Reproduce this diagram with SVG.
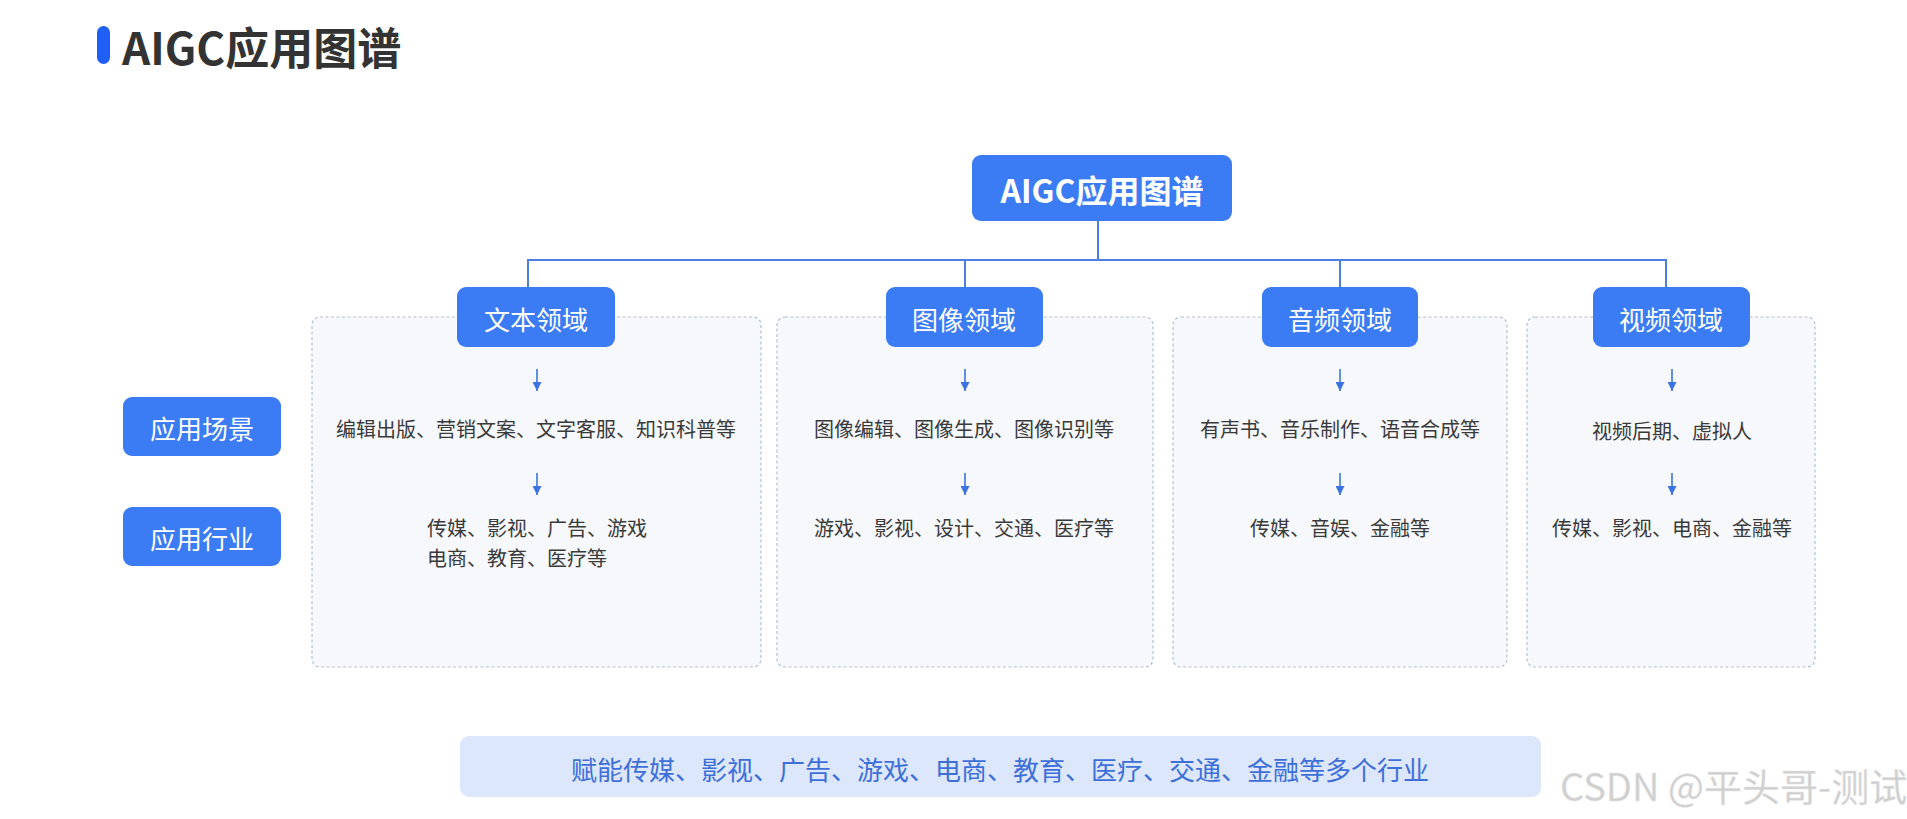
<svg xmlns="http://www.w3.org/2000/svg" width="1907" height="819" viewBox="0 0 1907 819">
<defs>
<style>
text{font-family:"Noto Sans CJK SC","Noto Sans",sans-serif;}
.btn{fill:#3b7cf4;}
.btxt{fill:#ffffff;font-size:26px;text-anchor:middle;dominant-baseline:central;}
.box{fill:#f6f8fb;stroke:#b4c0d2;stroke-width:1.2;stroke-dasharray:3 2.5;}
.body{fill:#3a3a3a;font-size:20px;text-anchor:middle;dominant-baseline:central;}
.bodyl{fill:#3a3a3a;font-size:20px;dominant-baseline:central;}
.conn{stroke:#4d7fe0;stroke-width:2;fill:none;}
.arr{stroke:#3b73e0;stroke-width:1.6;fill:none;}
</style>
<marker id="ah" viewBox="0 0 10 10" refX="10" refY="5" markerWidth="10" markerHeight="9" markerUnits="userSpaceOnUse" orient="auto">
<path d="M0,0 L10,5 L0,10 Z" fill="#3b73e0"/>
</marker>
</defs>
<rect width="1907" height="819" fill="#ffffff"/>

<g id="title">
<rect x="97" y="26" width="13" height="38" rx="6.5" fill="#1f5ff5"/>
<text x="122" y="46" font-size="44" font-weight="bold" fill="#333333" dominant-baseline="central">AIGC应用图谱</text>
</g>

<g id="connectors">
<line class="conn" x1="1098" y1="221" x2="1098" y2="260"/>
<line class="conn" x1="527" y1="260" x2="1667" y2="260"/>
<line class="conn" x1="528" y1="260" x2="528" y2="288"/>
<line class="conn" x1="965" y1="260" x2="965" y2="288"/>
<line class="conn" x1="1340" y1="260" x2="1340" y2="288"/>
<line class="conn" x1="1666" y1="260" x2="1666" y2="288"/>
</g>

<g id="containers">
<rect class="box" x="312" y="317" width="449" height="350" rx="8"/>
<rect class="box" x="777" y="317" width="376" height="350" rx="8"/>
<rect class="box" x="1173" y="317" width="334" height="350" rx="8"/>
<rect class="box" x="1527" y="317" width="288" height="350" rx="8"/>
</g>

<g id="root">
<rect class="btn" x="972" y="155" width="260" height="66" rx="9"/>
<text x="1102" y="189" fill="#ffffff" font-size="32" font-weight="bold" text-anchor="middle" dominant-baseline="central">AIGC应用图谱</text>
</g>

<g id="label-scene">
<rect class="btn" x="123" y="397" width="158" height="59" rx="9"/>
<text class="btxt" x="202" y="427">应用场景</text>
</g>
<g id="label-industry">
<rect class="btn" x="123" y="507" width="158" height="59" rx="9"/>
<text class="btxt" x="202" y="537">应用行业</text>
</g>

<g id="domain-text">
<rect class="btn" x="457" y="287" width="158" height="60" rx="9"/>
<text class="btxt" x="536" y="318">文本领域</text>
<line class="arr" x1="537" y1="369" x2="537" y2="391" marker-end="url(#ah)"/>
<text class="body" x="536" y="428">编辑出版、营销文案、文字客服、知识科普等</text>
<line class="arr" x1="537" y1="473" x2="537" y2="495" marker-end="url(#ah)"/>
<text class="bodyl" x="427" y="527">传媒、影视、广告、游戏</text>
<text class="bodyl" x="427" y="557">电商、教育、医疗等</text>
</g>

<g id="domain-image">
<rect class="btn" x="886" y="287" width="157" height="60" rx="9"/>
<text class="btxt" x="964" y="318">图像领域</text>
<line class="arr" x1="965" y1="369" x2="965" y2="391" marker-end="url(#ah)"/>
<text class="body" x="964" y="428">图像编辑、图像生成、图像识别等</text>
<line class="arr" x1="965" y1="473" x2="965" y2="495" marker-end="url(#ah)"/>
<text class="body" x="964" y="527">游戏、影视、设计、交通、医疗等</text>
</g>

<g id="domain-audio">
<rect class="btn" x="1262" y="287" width="156" height="60" rx="9"/>
<text class="btxt" x="1340" y="318">音频领域</text>
<line class="arr" x1="1340" y1="369" x2="1340" y2="391" marker-end="url(#ah)"/>
<text class="body" x="1340" y="428">有声书、音乐制作、语音合成等</text>
<line class="arr" x1="1340" y1="473" x2="1340" y2="495" marker-end="url(#ah)"/>
<text class="body" x="1340" y="527">传媒、音娱、金融等</text>
</g>

<g id="domain-video">
<rect class="btn" x="1593" y="287" width="157" height="60" rx="9"/>
<text class="btxt" x="1671" y="318">视频领域</text>
<line class="arr" x1="1672" y1="369" x2="1672" y2="391" marker-end="url(#ah)"/>
<text class="body" x="1672" y="430">视频后期、虚拟人</text>
<line class="arr" x1="1672" y1="473" x2="1672" y2="495" marker-end="url(#ah)"/>
<text class="body" x="1672" y="527">传媒、影视、电商、金融等</text>
</g>

<g id="banner">
<rect x="460" y="736" width="1081" height="61" rx="9" fill="#dce7fb"/>
<text x="1000" y="768" fill="#3e6fd9" font-size="26" text-anchor="middle" dominant-baseline="central">赋能传媒、影视、广告、游戏、电商、教育、医疗、交通、金融等多个行业</text>
</g>

<g id="watermark">
<text x="1560" y="784" fill="#cfcfcf" stroke="#e6e6e6" stroke-width="0.5" font-size="38" dominant-baseline="central" font-family="'Liberation Sans','Noto Sans CJK SC',sans-serif">CSDN @平头哥-测试</text>
</g>
</svg>
